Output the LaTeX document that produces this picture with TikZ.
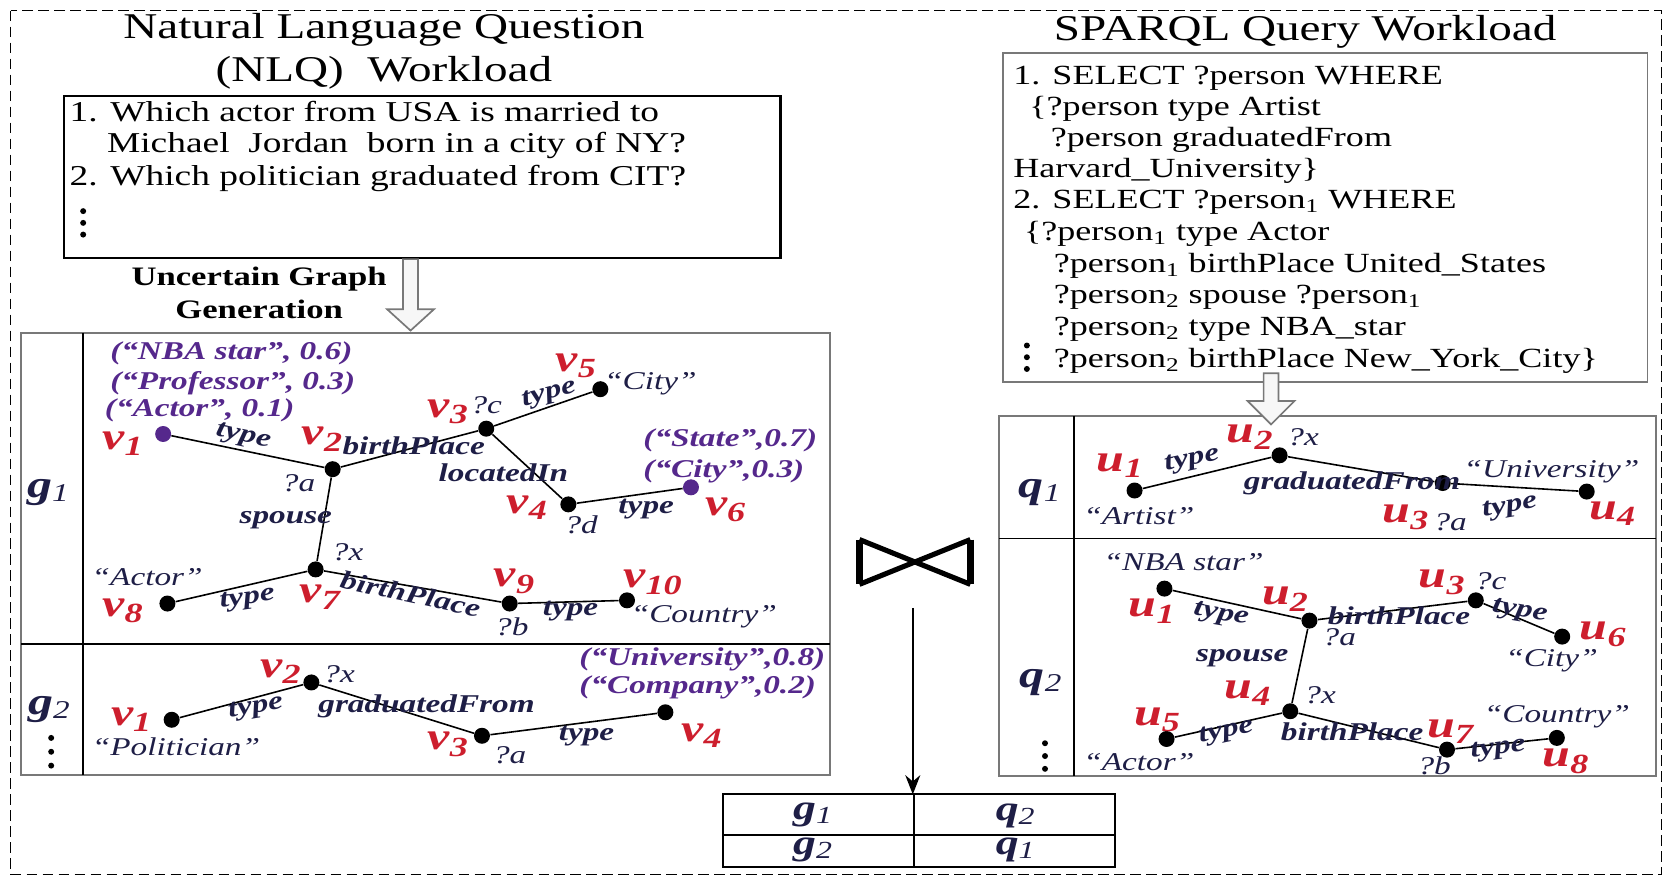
\documentclass[tikz,border=0pt]{standalone}
\usepackage{fontspec}
\setmainfont{Liberation Serif}[FakeStretch=1.3]
\usetikzlibrary{arrows.meta}
\definecolor{vred}{RGB}{205,30,45}
\definecolor{ppl}{RGB}{85,40,140}
\definecolor{navy}{RGB}{30,30,70}
\definecolor{hgray}{RGB}{120,120,120}
\newcommand{\myfs}[1]{\fontsize{#1}{#1}\selectfont}
\newcommand{\Vl}[2]{{\myfs{18}\bfseries\itshape #1}{\myfs{13}\bfseries\itshape\raisebox{-3pt}{#2}}}
\newcommand{\Gl}[2]{{\myfs{18}\bfseries\itshape #1}{\myfs{12}\itshape\raisebox{-2pt}{#2}}}
\newcommand{\Tl}[2]{{\myfs{16.5}\bfseries\itshape #1}{\myfs{11.5}\itshape\raisebox{-2pt}{#2}}}
\begin{document}
\begin{tikzpicture}[x=0.5pt,y=-0.5pt,
  vtx/.style={circle,fill=black,inner sep=0pt,minimum size=7.5pt},
  pvtx/.style={vtx,fill=ppl},
  edge/.style={draw=black,line width=0.75pt},
  elab/.style={font=\myfs{12}\bfseries\itshape,text=navy,inner sep=0pt},
  qlab/.style={font=\myfs{12}\itshape,text=navy,inner sep=0pt},
  plab/.style={font=\myfs{12}\bfseries\itshape,text=ppl,inner sep=0pt,anchor=west},
  vlab/.style={text=vred,inner sep=0pt},
  glab/.style={text=navy,inner sep=0pt},
  nlq/.style={font=\myfs{13.5},anchor=west,inner sep=0pt},
  sq/.style={font=\myfs{13},anchor=west,inner sep=0pt},
  ttl/.style={font=\myfs{17},inner sep=0pt},
  hollow/.style={draw=hgray,fill=gray!6,line width=0.8pt},
  frame/.style={draw=hgray,line width=0.9pt},
  rule/.style={draw=black,line width=0.9pt},
  dot/.style={circle,fill=black,inner sep=0pt,minimum size=2.8pt}
]
\useasboundingbox (0,0) rectangle (1568,824);
% outer dashed frame
\draw[dashed,dash pattern=on 5pt off 2.5pt,line width=0.7pt] (10,10) rectangle (1558,820);

% ===== left: NLQ =====
\node[ttl] (t1) at (360,28) {Natural Language Question};
\node[ttl] (t2) at (360,68) {(NLQ)~~Workload};
\draw[black,line width=1pt] (60,90) rectangle (732,242);
\node[nlq] (q1a) at (65,105) {1. Which actor from USA is married to};
\node[nlq] (q1b) at (100,136) {Michael~~Jordan~~born in a city of NY?};
\node[nlq] (q2a) at (65,167) {2. Which politician graduated from CIT?};
\node[dot] (d1) at (78,198) {};
\node[dot] (d2) at (78,209) {};
\node[dot] (d3) at (78,220) {};
\node[font=\myfs{12.5}\bfseries,inner sep=0pt] (ug1) at (243,262) {Uncertain Graph};
\node[font=\myfs{12.5}\bfseries,inner sep=0pt] (ug2) at (243,290) {Generation};

% g box
\draw[frame] (20,312) rectangle (778,727);
\draw[rule] (20,604) -- (778,604);
\draw[rule] (78,312) -- (78,727);
\draw[hollow] (378,243) -- (392,243) -- (392,290) -- (407,290) -- (385,310) -- (363,290) -- (378,290) -- cycle;
\node[glab] (g1) at (45,462) {\Gl{g}{1}};
\node[glab] (g2) at (46,665) {\Gl{g}{2}};
\node[dot] (e1) at (48,692) {};
\node[dot] (e2) at (48,705) {};
\node[dot] (e3) at (48,718) {};

% g1 graph
\node[pvtx] (a1) at (153,407) {};
\node[vtx] (a2) at (312,440) {};
\node[vtx] (a3) at (456,402) {};
\node[vtx] (a5) at (563,365) {};
\node[vtx] (a4) at (533,473) {};
\node[pvtx] (a6) at (648,457) {};
\node[vtx] (a7) at (296,534) {};
\node[vtx] (a8) at (157,566) {};
\node[vtx] (a9) at (478,566) {};
\node[vtx] (a10) at (588,563) {};
\draw[edge] (a1) -- (a2);
\draw[edge] (a2) -- (a3);
\draw[edge] (a3) -- (a5);
\draw[edge] (a3) -- (a4);
\draw[edge] (a4) -- (a6);
\draw[edge] (a2) -- (a7);
\draw[edge] (a8) -- (a7);
\draw[edge] (a7) -- (a9);
\draw[edge] (a9) -- (a10);
\node[vlab] (lv1) at (115,416) {\Vl{v}{1}};
\node[vlab] (lv2) at (302,412) {\Vl{v}{2}};
\node[vlab] (lv3) at (420,386) {\Vl{v}{3}};
\node[vlab] (lv5) at (540,343) {\Vl{v}{5}};
\node[vlab] (lv4) at (494,476) {\Vl{v}{4}};
\node[vlab] (lv6) at (680,478) {\Vl{v}{6}};
\node[vlab] (lv7) at (300,560) {\Vl{v}{7}};
\node[vlab] (lv8) at (115,573) {\Vl{v}{8}};
\node[vlab] (lv9) at (482,545) {\Vl{v}{9}};
\node[vlab] (lv10) at (612,546) {\Vl{v}{10}};
\node[qlab] (xa) at (280,453) {?a};
\node[qlab] (xc) at (456,380) {?c};
\node[qlab] (xd) at (545,492) {?d};
\node[qlab] (xx) at (326,518) {?x};
\node[qlab] (xb) at (480,588) {?b};
\node[qlab] (qc1) at (610,360) {“City”};
\node[qlab] (qa1) at (138,541) {“Actor”};
\node[qlab] (qn1) at (660,578) {“Country”};
\node[elab,rotate=-12] (ea1) at (228,410) {type};
\node[elab] (ea2) at (388,418) {birthPlace};
\node[elab] (ea3) at (472,443) {locatedIn};
\node[elab,rotate=15] (ea4) at (515,370) {type};
\node[elab] (ea5) at (606,477) {type};
\node[elab] (ea6) at (268,488) {spouse};
\node[elab,rotate=8] (ea7) at (232,562) {type};
\node[elab,rotate=-12] (ea8) at (385,557) {birthPlace};
\node[elab] (ea9) at (535,573) {type};
\node[plab] (p1) at (103,331) {(“NBA star”, 0.6)};
\node[plab] (p2) at (103,359) {(“Professor”, 0.3)};
\node[plab] (p3) at (98,385) {(“Actor”, 0.1)};
\node[plab] (p4) at (603,413) {(“State”,0.7)};
\node[plab] (p5) at (603,442) {(“City”,0.3)};

% g2 graph
\node[vtx] (b1) at (161,675) {};
\node[vtx] (b2) at (292,640) {};
\node[vtx] (b3) at (452,690) {};
\node[vtx] (b4) at (624,668) {};
\draw[edge] (b1) -- (b2);
\draw[edge] (b2) -- (b3);
\draw[edge] (b3) -- (b4);
\node[vlab] (lw1) at (123,675) {\Vl{v}{1}};
\node[vlab] (lw2) at (263,630) {\Vl{v}{2}};
\node[vlab] (lw3) at (420,698) {\Vl{v}{3}};
\node[vlab] (lw4) at (658,690) {\Vl{v}{4}};
\node[qlab] (yx) at (318,632) {?x};
\node[qlab] (ya) at (478,708) {?a};
\node[qlab] (ypol) at (165,700) {“Politician”};
\node[elab,rotate=10] (eb1) at (240,664) {type};
\node[elab] (eb2) at (400,662) {graduatedFrom};
\node[elab] (eb3) at (550,690) {type};
\node[plab] (p6) at (543,618) {(“University”,0.8)};
\node[plab] (p7) at (543,645) {(“Company”,0.2)};

% ===== right: SPARQL =====
\node[ttl] (t3) at (1224,30) {SPARQL Query Workload};
\draw[frame] (941,50) rectangle (1545,358);
\node[sq] (s1) at (950,73) {1. SELECT ?person WHERE};
\node[sq] (s2) at (965,102) {\{?person type Artist};
\node[sq] (s3) at (985,131) {?person graduatedFrom};
\node[sq] (s4) at (950,160) {Harvard\_University\}};
\node[sq] (s5) at (950,190) {2. SELECT ?person\textsubscript{1} WHERE};
\node[sq] (s6) at (960,219) {\{?person\textsubscript{1} type Actor};
\node[sq] (s7) at (988,249) {?person\textsubscript{1} birthPlace United\_States};
\node[sq] (s8) at (988,279) {?person\textsubscript{2} spouse ?person\textsubscript{1}};
\node[sq] (s9) at (988,309) {?person\textsubscript{2} type NBA\_star};
\node[sq] (s10) at (988,338) {?person\textsubscript{2} birthPlace New\_York\_City\}};
\node[dot] (f1) at (963,324) {};
\node[dot] (f2) at (963,335) {};
\node[dot] (f3) at (963,346) {};

% q box
\draw[frame] (937,390) rectangle (1553,728);
\draw[rule] (937,505) -- (1553,505);
\draw[rule] (1007,390) -- (1007,728);
\draw[hollow] (1185,350) -- (1199,350) -- (1199,376) -- (1214,376) -- (1192,398) -- (1170,376) -- (1185,376) -- cycle;
\node[glab] (gq1) at (975,462) {\Gl{q}{1}};
\node[glab] (gq2) at (976,640) {\Gl{q}{2}};
\node[dot] (h1) at (980,697) {};
\node[dot] (h2) at (980,709) {};
\node[dot] (h3) at (980,721) {};

% q1 graph
\node[vtx] (c1) at (1064,460) {};
\node[vtx] (c2) at (1200,427) {};
\node[vtx] (c3) at (1353,453) {};
\node[vtx] (c4) at (1488,461) {};
\draw[edge] (c1) -- (c2);
\draw[edge] (c2) -- (c3);
\draw[edge] (c3) -- (c4);
\node[vlab] (lu1) at (1050,437) {\Vl{u}{1}};
\node[vlab] (lu2) at (1172,410) {\Vl{u}{2}};
\node[vlab] (lu3) at (1318,485) {\Vl{u}{3}};
\node[vlab] (lu4) at (1512,482) {\Vl{u}{4}};
\node[qlab] (zx) at (1222,410) {?x};
\node[qlab] (za) at (1360,490) {?a};
\node[qlab] (zart) at (1068,484) {“Artist”};
\node[qlab] (zuni) at (1455,442) {“University”};
\node[elab,rotate=12] (ec1) at (1118,432) {type};
\node[elab] (ec2) at (1268,453) {graduatedFrom};
\node[elab,rotate=10] (ec3) at (1416,476) {type};

% q2 graph
\node[vtx] (k1) at (1092,552) {};
\node[vtx] (k2) at (1228,582) {};
\node[vtx] (k3) at (1384,563) {};
\node[vtx] (k6) at (1465,597) {};
\node[vtx] (k4) at (1210,667) {};
\node[vtx] (k5) at (1094,693) {};
\node[vtx] (k7) at (1357,703) {};
\node[vtx] (k8) at (1460,692) {};
\draw[edge] (k1) -- (k2);
\draw[edge] (k2) -- (k3);
\draw[edge] (k3) -- (k6);
\draw[edge] (k2) -- (k4);
\draw[edge] (k5) -- (k4);
\draw[edge] (k4) -- (k7);
\draw[edge] (k7) -- (k8);
\node[vlab] (lk1) at (1080,573) {\Vl{u}{1}};
\node[vlab] (lk2) at (1205,562) {\Vl{u}{2}};
\node[vlab] (lk3) at (1352,546) {\Vl{u}{3}};
\node[vlab] (lk6) at (1503,595) {\Vl{u}{6}};
\node[vlab] (lk4) at (1170,650) {\Vl{u}{4}};
\node[vlab] (lk5) at (1085,675) {\Vl{u}{5}};
\node[vlab] (lk7) at (1360,686) {\Vl{u}{7}};
\node[vlab] (lk8) at (1468,714) {\Vl{u}{8}};
\node[qlab] (wa) at (1256,598) {?a};
\node[qlab] (wc) at (1398,545) {?c};
\node[qlab] (wx) at (1238,652) {?x};
\node[qlab] (wb) at (1345,718) {?b};
\node[qlab] (wnba) at (1110,527) {“NBA star”};
\node[qlab] (wcity) at (1455,620) {“City”};
\node[qlab] (wact) at (1068,715) {“Actor”};
\node[qlab] (wcou) at (1460,672) {“Country”};
\node[elab,rotate=-10] (ek1) at (1145,577) {type};
\node[elab] (ek2) at (1312,577) {birthPlace};
\node[elab,rotate=-10] (ek3) at (1425,574) {type};
\node[elab] (ek4) at (1165,617) {spouse};
\node[elab,rotate=12] (ek5) at (1150,687) {type};
\node[elab] (ek6) at (1268,686) {birthPlace};
\node[elab,rotate=8] (ek7) at (1405,703) {type};

% ===== join and result =====
\draw[line width=3.5pt,line join=round] (806,506) -- (806,548);
\draw[line width=3.5pt,line join=round] (910,506) -- (910,548);
\draw[line width=2.4pt] (806,506) -- (910,548);
\draw[line width=2.4pt] (806,548) -- (910,506);
\coordinate (as) at (856,570);
\coordinate (tab) at (856,745);
\draw[line width=1.2pt,-{Stealth[length=9pt,width=7pt]}] (as) -- (tab);
\draw[line width=1pt] (678,745) rectangle (1046,813);
\draw[line width=1pt] (678,783) -- (1046,783);
\draw[line width=1pt] (857,745) -- (857,813);
\node[glab] (r1) at (762,764) {\Tl{g}{1}};
\node[glab] (r2) at (952,765) {\Tl{q}{2}};
\node[glab] (r3) at (762,797) {\Tl{g}{2}};
\node[glab] (r4) at (952,797) {\Tl{q}{1}};
\end{tikzpicture}
\end{document}
